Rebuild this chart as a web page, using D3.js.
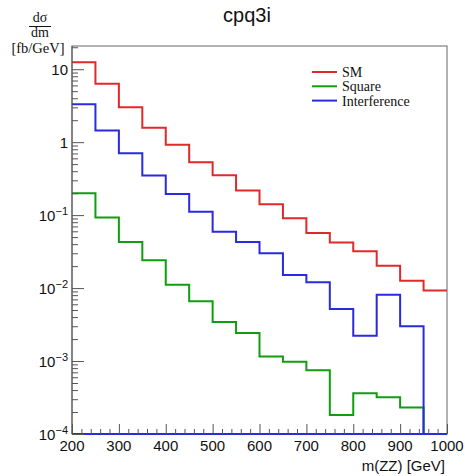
<!DOCTYPE html>
<html>
<head>
<meta charset="utf-8">
<script src="https://cdn.jsdelivr.net/npm/d3@7"></script>
<style>
  body { margin: 0; background: #fff; }
  svg { display: block; }
</style>
</head>
<body>
<div id="chart"></div>
<script>
// bin edges (GeV) and bin contents
var binEdges = [200, 250, 300, 350, 400, 450, 500, 550, 600, 650, 700, 750, 800, 850, 900, 950, 1000];
var smValues = [12.5, 6.3, 3.0, 1.58, 0.92, 0.53, 0.352, 0.217, 0.141, 0.0906, 0.057, 0.042, 0.032, 0.0203, 0.0126, 0.0093];
var squareValues = [0.2, 0.0925, 0.0429, 0.024, 0.0111, 0.00659, 0.00343, 0.00243, 0.00115, 0.00098, 0.00075, 0.000182, 0.000361, 0.000318, 0.00023, 0];
var interfValues = [3.31, 1.44, 0.705, 0.348, 0.195, 0.111, 0.0594, 0.0429, 0.030, 0.0151, 0.0120, 0.00517, 0.00223, 0.0081, 0.0030, 0];
var xTicks = [200, 300, 400, 500, 600, 700, 800, 900, 1000];
var yDecades = [1e-4, 1e-3, 1e-2, 1e-1, 1, 10];
var yTickLabels = [["10", "\u22124"], ["10", "\u22123"], ["10", "\u22122"], ["10", "\u22121"], ["1", ""], ["10", ""]];
var seriesNames = ["SM", "Square", "Interference"];
var seriesColors = ["#e02a2a", "#0f9e0f", "#2a2ae0"];

var width = 465, height = 476;
var padLeft = 72, padRight = 447, padTop = 46, padBottom = 434;
var yMin = 1e-4, yMax = 20.8;

var svg = d3.select("#chart").append("svg")
    .attr("width", width)
    .attr("height", height);

var x = d3.scaleLinear().domain([200, 1000]).range([padLeft, padRight]);
var y = d3.scaleLog().domain([yMin, yMax]).range([padBottom, padTop]);

// frame
svg.append("rect")
    .attr("x", padLeft).attr("y", padTop)
    .attr("width", padRight - padLeft).attr("height", padBottom - padTop)
    .attr("fill", "none").attr("stroke", "#666").attr("stroke-width", 1);

// histogram outlines
function histPath(values, closeBottom) {
    var yb = y(yMin);
    var p = d3.path();
    p.moveTo(x(binEdges[0]), values[0] > 0 ? y(values[0]) : yb);
    values.forEach(function (v, i) {
        var yy = v > 0 ? y(Math.max(v, yMin)) : yb;
        if (i > 0) p.lineTo(x(binEdges[i]), yy);
        p.lineTo(x(binEdges[i + 1]), yy);
    });
    if (closeBottom) {
        p.lineTo(x(binEdges[binEdges.length - 1]), yb);
        p.lineTo(x(binEdges[0]), yb);
    }
    return p.toString();
}

var allSeries = [squareValues, smValues, interfValues];
var allColors = [seriesColors[1], seriesColors[0], seriesColors[2]];
allSeries.forEach(function (vals, i) {
    svg.append("path")
        .attr("d", histPath(vals, i === 2))
        .attr("fill", "none")
        .attr("stroke", allColors[i])
        .attr("stroke-width", 2);
});

// left axis line on top
svg.append("line")
    .attr("x1", padLeft).attr("x2", padLeft).attr("y1", padTop).attr("y2", padBottom)
    .attr("stroke", "#555").attr("stroke-width", 1);

// y ticks (pointing inward)
var yMinor = y.ticks().filter(function (t) { return yDecades.indexOf(t) < 0; });
var yMajorAxis = d3.axisRight(y).tickValues(yDecades).tickSize(12).tickFormat("");
var yMinorAxis = d3.axisRight(y).tickValues(yMinor).tickSize(6).tickFormat("");
[yMajorAxis, yMinorAxis].forEach(function (ax) {
    var g = svg.append("g").attr("transform", "translate(" + padLeft + ",0)").call(ax);
    g.select(".domain").remove();
    g.selectAll("line").attr("stroke", "#555");
});

// x ticks (pointing inward)
var xMinor = d3.range(200, 1001, 20).filter(function (t) { return xTicks.indexOf(t) < 0; });
var xMajorAxis = d3.axisTop(x).tickValues(xTicks).tickSize(10).tickFormat("");
var xMinorAxis = d3.axisTop(x).tickValues(xMinor).tickSize(5).tickFormat("");
[xMajorAxis, xMinorAxis].forEach(function (ax) {
    var g = svg.append("g").attr("transform", "translate(0," + padBottom + ")").call(ax);
    g.select(".domain").remove();
    g.selectAll("line").attr("stroke", "#555");
});

// x tick labels
svg.append("g").selectAll("text")
    .data(xTicks)
    .enter().append("text")
    .attr("x", function (d) { return x(d); })
    .attr("y", 451)
    .attr("text-anchor", "middle")
    .attr("font-family", "Liberation Sans, Arial, sans-serif")
    .attr("font-size", 15)
    .attr("fill", "#111")
    .text(function (d) { return d; });

// y tick labels
var yl = svg.append("g").selectAll("text")
    .data(yDecades)
    .enter().append("text")
    .attr("x", 68)
    .attr("y", function (d) { return y(d) + 6; })
    .attr("text-anchor", "end")
    .attr("font-family", "Liberation Sans, Arial, sans-serif")
    .attr("font-size", 15)
    .attr("fill", "#111");
yl.each(function (d, i) {
    var t = d3.select(this);
    t.append("tspan").text(yTickLabels[i][0]);
    if (yTickLabels[i][1]) {
        t.append("tspan").attr("dy", -6).attr("font-size", 11).text(yTickLabels[i][1]);
    }
});

// axis titles
svg.append("text")
    .attr("x", 445).attr("y", 471)
    .attr("text-anchor", "end")
    .attr("font-family", "Liberation Sans, Arial, sans-serif")
    .attr("font-size", 15)
    .attr("fill", "#111")
    .text("m(ZZ) [GeV]");

var serif = "Liberation Serif, Times New Roman, serif";
svg.append("text").attr("x", 40).attr("y", 22).attr("text-anchor", "middle")
    .attr("font-family", serif).attr("font-size", 14).attr("fill", "#111").text("d\u03c3");
svg.append("line").attr("x1", 29).attr("x2", 51).attr("y1", 26.5).attr("y2", 26.5)
    .attr("stroke", "#111").attr("stroke-width", 1);
svg.append("text").attr("x", 40).attr("y", 37).attr("text-anchor", "middle")
    .attr("font-family", serif).attr("font-size", 14).attr("fill", "#111").text("dm");
svg.append("text").attr("x", 38).attr("y", 53).attr("text-anchor", "middle")
    .attr("font-family", serif).attr("font-size", 14.5).attr("fill", "#111").text("[fb/GeV]");

// title
svg.append("text")
    .attr("x", 247).attr("y", 22)
    .attr("text-anchor", "middle")
    .attr("font-family", "Liberation Sans, Arial, sans-serif")
    .attr("font-size", 20)
    .attr("fill", "#111")
    .text("cpq3i");

// legend
var legend = svg.append("g");
seriesNames.forEach(function (name, i) {
    var ly = 72 + i * 14.3;
    legend.append("line")
        .attr("x1", 312).attr("x2", 337).attr("y1", ly).attr("y2", ly)
        .attr("stroke", seriesColors[i]).attr("stroke-width", 2);
    legend.append("text")
        .attr("x", 342).attr("y", ly + 5)
        .attr("font-family", serif)
        .attr("font-size", 14)
        .attr("fill", "#111")
        .text(name);
});
</script>
</body>
</html>
